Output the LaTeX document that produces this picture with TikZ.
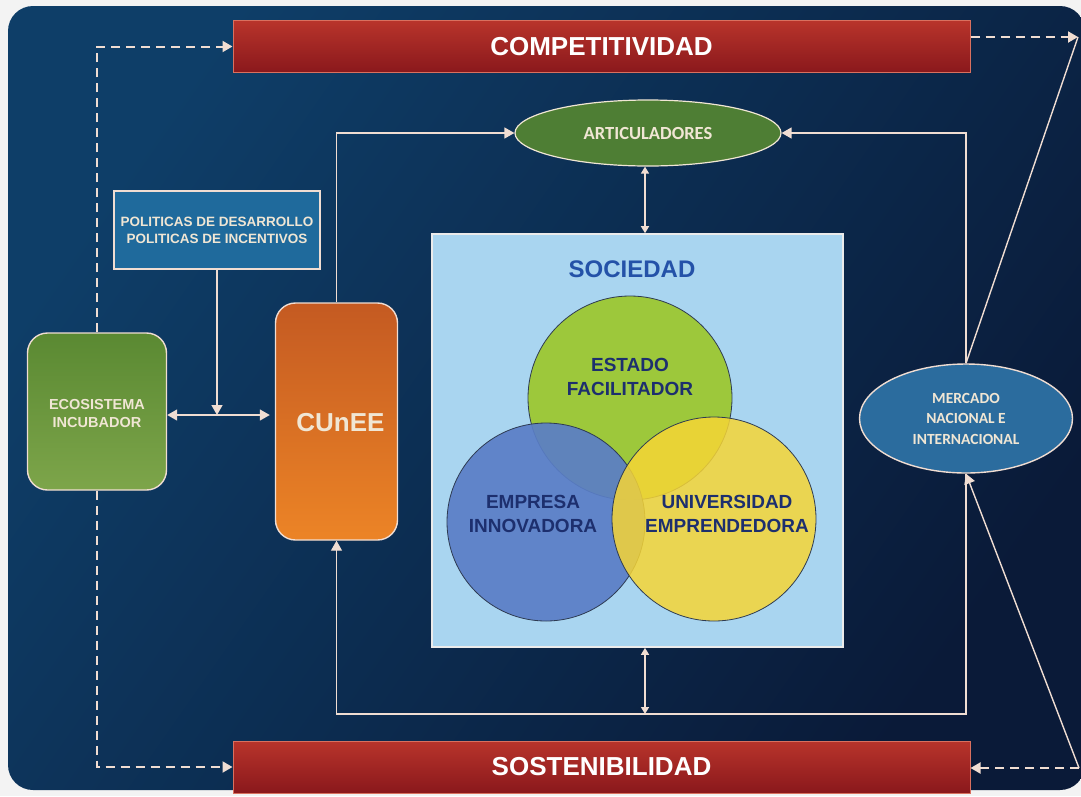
\documentclass[tikz,border=0pt]{standalone}
\usepackage{fontspec}
\setmainfont{Liberation Sans}
\newfontfamily\calib{Carlito}
\usetikzlibrary{arrows.meta,shapes.geometric,calc}
\definecolor{pagebg}{HTML}{F3F3F3}
\definecolor{bgtop}{HTML}{0E3E68}
\definecolor{bgbot}{HTML}{0A1A38}
\definecolor{barTop}{HTML}{B8342B}
\definecolor{barBot}{HTML}{8A181C}
\definecolor{barEdge}{HTML}{D9705F}
\definecolor{linec}{HTML}{F0DDD2}
\definecolor{cream}{HTML}{F0E6D4}
\definecolor{artGreen}{HTML}{4E7E34}
\definecolor{polBlue}{HTML}{1F6A9C}
\definecolor{ecoTop}{HTML}{5A8932}
\definecolor{ecoBot}{HTML}{7DA54A}
\definecolor{cunTop}{HTML}{C45A22}
\definecolor{cunBot}{HTML}{EC8426}
\definecolor{socFill}{HTML}{A9D5F0}
\definecolor{socText}{HTML}{2452A8}
\definecolor{cGreen}{HTML}{9DC83B}
\definecolor{cBlue}{HTML}{5A7EC6}
\definecolor{cYellow}{HTML}{F6D536}
\definecolor{cEdge}{HTML}{2E3B52}
\definecolor{cText}{HTML}{1D2F6E}
\definecolor{mercBlue}{HTML}{2B6C9E}
\begin{document}
\begin{tikzpicture}[x=1pt,y=-1pt,
  bar/.style={rectangle, minimum width=737pt, minimum height=52pt, inner sep=0pt,
    top color=barTop, bottom color=barBot, draw=barEdge, line width=1pt,
    text=white, font=\bfseries\fontsize{26}{30}\selectfont},
  conn/.style={draw=linec, line width=1.4pt},
  dsh/.style={draw=linec, line width=2pt, dash pattern=on 9pt off 6pt},
  arr/.style={-{Triangle[width=11pt,length=10pt,fill=linec]}},
  darr/.style={{Triangle[width=8pt,length=7pt,fill=linec]}-{Triangle[width=8pt,length=7pt,fill=linec]}},
  darrb/.style={{Triangle[width=11pt,length=10pt,fill=linec]}-{Triangle[width=11pt,length=10pt,fill=linec]}},
  venn/.style={circle, inner sep=0pt, draw=cEdge, line width=0.8pt},
  venntxt/.style={align=center, text=cText, font=\bfseries\fontsize{19}{24}\selectfont},
]
\useasboundingbox (0,0) rectangle (1081,796);
\fill[pagebg] (0,0) rectangle (1081,796);
\shade[rounded corners=25pt, top color=bgtop, bottom color=bgbot, shading angle=55] (8,6) rectangle (1085,790);

% bars
\node[bar] (comp) at (601.5,46.5) {COMPETITIVIDAD};
\node[bar] (sost) at (601.5,767) {SOSTENIBILIDAD};

% articuladores
\node[ellipse, minimum width=266pt, minimum height=66pt, inner sep=0pt, fill=artGreen,
  draw=cream, line width=1.2pt, text=cream, font=\calib\bfseries\fontsize{18.5}{22}\selectfont]
  (art) at (648,133) {ARTICULADORES};

% politicas
\node[rectangle, minimum width=206pt, minimum height=78pt, inner sep=0pt, fill=polBlue,
  draw=linec, line width=1.2pt, align=center, text=cream,
  font=\bfseries\fontsize{13.5}{17}\selectfont]
  (pol) at (217,230) {POLITICAS DE DESARROLLO\\POLITICAS DE INCENTIVOS};

% ecosistema
\node[rectangle, rounded corners=20pt, minimum width=139pt, minimum height=157pt, inner sep=0pt,
  top color=ecoTop, bottom color=ecoBot, draw=linec, line width=1.4pt] (eco) at (97,411.5) {};
\node[align=center, text=cream, font=\bfseries\fontsize{14.5}{18}\selectfont] (ecoT) at (97,413)
  {ECOSISTEMA\\INCUBADOR};

% CUnEE
\node[rectangle, rounded corners=20pt, minimum width=122pt, minimum height=237pt, inner sep=0pt,
  top color=cunTop, bottom color=cunBot, draw=linec, line width=1.4pt] (cunee) at (336.5,421.5) {};
\node[text=cream, font=\bfseries\fontsize{26}{30}\selectfont] (cuneeT) at (340.5,423) {CUnEE};

% sociedad
\node[rectangle, minimum width=411pt, minimum height=413pt, inner sep=0pt, fill=socFill,
  draw=white!92!black, line width=1.6pt] (soc) at (637.5,440.5) {};
\node[text=socText, font=\bfseries\fontsize{24}{28}\selectfont] (socT) at (632,269) {SOCIEDAD};

% venn circles
\node[venn, minimum size=204pt, fill=cGreen] (est) at (630,398) {};
\node[venn, minimum size=198pt, fill=cBlue, fill opacity=0.92] (emp) at (546,522) {};
\node[venn, minimum size=204pt, fill=cYellow, fill opacity=0.85] (uni) at (714,519) {};
\node[venntxt] (estT) at (630,377) {ESTADO\\FACILITADOR};
\node[venntxt] (empT) at (533,514) {EMPRESA\\INNOVADORA};
\node[venntxt] (uniT) at (727,514) {UNIVERSIDAD\\EMPRENDEDORA};

% mercado
\node[ellipse, minimum width=213pt, minimum height=109pt, inner sep=0pt, fill=mercBlue,
  draw=linec, line width=1.4pt, align=center, text=cream,
  font=\calib\bfseries\fontsize{15.5}{20.5}\selectfont]
  (merc) at (966,418.5) {MERCADO\\NACIONAL E\\INTERNACIONAL};

% coordinates
\coordinate (tr) at (1078,37);
\coordinate (br) at (1079,768);
\coordinate (j) at (pol.south |- 0,415);
\coordinate (bl) at (cunee.south |- 0,714);

% dashed connectors
\draw[dsh, arr] (eco.north) |- (comp.west);
\draw[dsh, arr] (eco.south) |- (sost.west);
\draw[dsh, arr] (tr -| comp.east) -- (tr);
\draw[dsh, arr] (br) -- (sost.east |- br);

% solid connectors
\draw[conn] (merc.north) -- (tr);
\draw[conn, arr] (br) -- (merc.south);
\draw[conn, arr] (cunee.north) |- (art.west);
\draw[conn, arr] (merc.north) |- (art.east);
\draw[conn, arr] (merc.south) |- (bl) -- (cunee.south);
\draw[conn, arr] (pol.south) -- (j);
\draw[conn, darrb, shorten >=5pt] (eco.east |- j) -- (cunee.west |- j);
\draw[conn, darr] ($(art.south)+(-3,0)$) -- ($(art.south |- soc.north)+(-3,0)$);
\draw[conn, darr] ($(art.south |- soc.south)+(-3,0)$) -- ($(art.south |- bl)+(-3,0)$);
\end{tikzpicture}
\end{document}
